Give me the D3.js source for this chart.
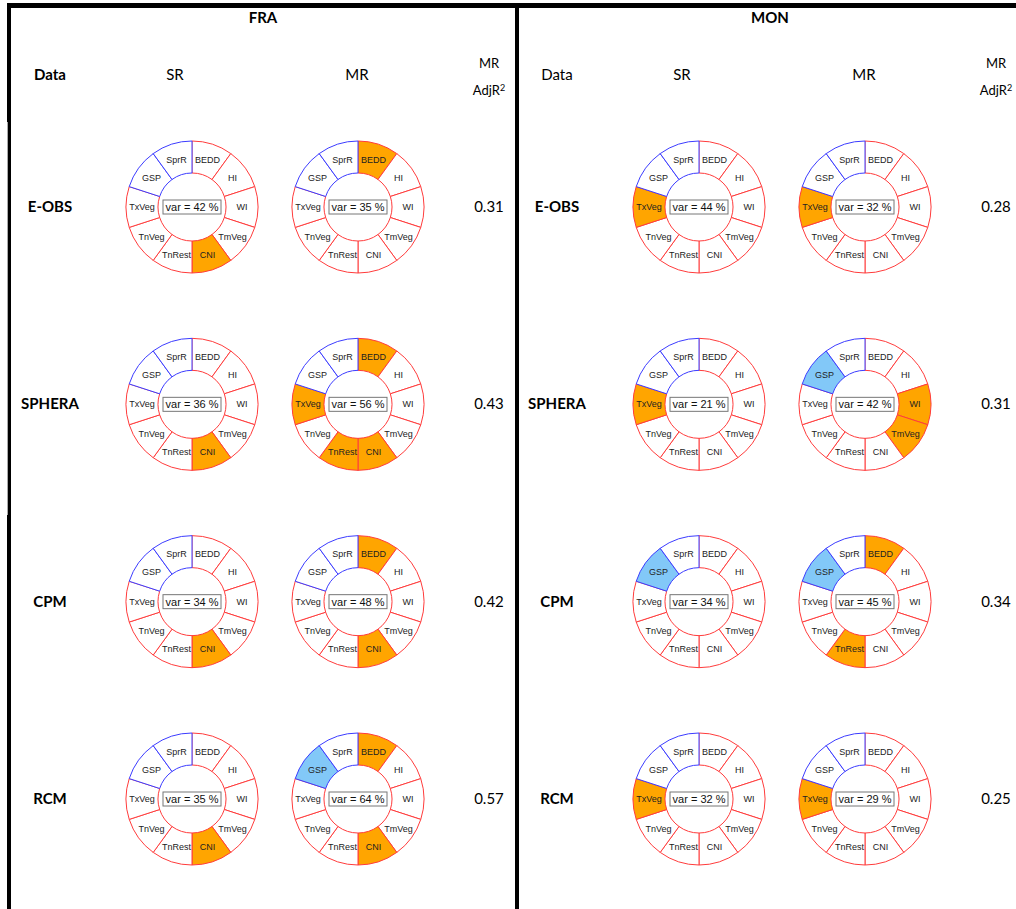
<!DOCTYPE html>
<html><head><meta charset="utf-8">
<script src="https://cdn.jsdelivr.net/npm/d3@7"></script>
<style>body{margin:0;background:#fff}svg{display:block}</style>
</head><body><svg id="chart" width="1016" height="909"></svg>
<script>
// ---- data ----
const regions = ["FRA", "MON"];
const datasets = ["E-OBS", "SPHERA", "CPM", "RCM"];
const models = ["SR", "MR"];
// climate indices, clockwise from 12 o'clock
const indices = ["BEDD", "HI", "WI", "TmVeg", "CNI", "TnRest", "TnVeg", "TxVeg", "GSP", "SprR"];
const precipIndices = ["GSP", "SprR"];

// explained variance (%) per dataset: [SR, MR]
const varFRA = [[42, 35], [36, 56], [34, 48], [35, 64]];
const varMON = [[44, 32], [21, 42], [34, 45], [32, 29]];

// selected predictors per dataset: [SR, MR], "+" positive / "-" negative effect
const selFRA = [
  [["CNI+"], ["BEDD+"]],
  [["CNI+"], ["BEDD+", "TxVeg+", "TnRest+", "CNI+"]],
  [["CNI+"], ["BEDD+", "CNI+"]],
  [["CNI+"], ["GSP-", "BEDD+", "CNI+"]]
];
const selMON = [
  [["TxVeg+"], ["TxVeg+"]],
  [["TxVeg+"], ["GSP-", "WI+", "TmVeg+"]],
  [["GSP-"], ["GSP-", "BEDD+", "TnRest+"]],
  [["TxVeg+"], ["TxVeg+"]]
];

// adjusted R² of the multiple regression
const adjR2FRA = [0.31, 0.43, 0.42, 0.57];
const adjR2MON = [0.28, 0.31, 0.34, 0.25];

const panels = [
  { name: regions[0], vars: varFRA, sel: selFRA, adj: adjR2FRA, dataBold: true },
  { name: regions[1], vars: varMON, sel: selMON, adj: adjR2MON, dataBold: false }
];

// ---- layout ----
const svg = d3.select("#chart");
const headFont = "Lato, 'Open Sans', sans-serif";
const donutFont = "'Liberation Sans', Arial, sans-serif";
const panelX = d3.scalePoint().domain(regions).range([0, 507]);
const rowY = d3.scalePoint().domain(datasets).range([207, 799]);
const colX = d3.scalePoint().domain(models).range([192, 358]);

const rOuter = 66, rInner = 34;
const pie = d3.pie().value(1).sort(null);
const slices = pie(indices);
const arc = d3.arc().innerRadius(rInner).outerRadius(rOuter);
const labelArc = d3.arc().innerRadius(50).outerRadius(50);

const red = "#ff3c3c", blue = "#3c3cff";
const posFill = "#ffa500", negFill = "#82c8f8";

panels.forEach(p => {
  const g = svg.append("g").attr("transform", `translate(${panelX(p.name)},0)`);

  // headers
  g.append("text").attr("x", 263).attr("y", 23).attr("text-anchor", "middle")
    .attr("font-family", headFont).attr("font-weight", "bold").attr("font-size", 15)
    .text(p.name);
  g.append("text").attr("x", 50).attr("y", 80).attr("text-anchor", "middle")
    .attr("font-family", headFont).attr("font-weight", p.dataBold ? "bold" : "normal")
    .attr("font-size", 15).text("Data");
  models.forEach(m => {
    g.append("text").attr("x", colX(m) - (m === "SR" ? 17 : 1)).attr("y", 80)
      .attr("text-anchor", "middle").attr("font-family", headFont)
      .attr("font-size", 15).text(m);
  });
  g.append("text").attr("x", 489).attr("y", 68).attr("text-anchor", "middle")
    .attr("font-family", headFont).attr("font-size", 13).text("MR");
  const adjT = g.append("text").attr("x", 489).attr("y", 95).attr("text-anchor", "middle")
    .attr("font-family", headFont).attr("font-size", 13);
  adjT.append("tspan").text("AdjR");
  adjT.append("tspan").attr("dy", -4).attr("font-size", 9).text("2");

  datasets.forEach((ds, i) => {
    const y = rowY(ds);
    g.append("text").attr("x", 50).attr("y", y + 5).attr("text-anchor", "middle")
      .attr("font-family", headFont).attr("font-weight", "bold").attr("font-size", 15)
      .text(ds);
    g.append("text").attr("x", 489).attr("y", y + 5).attr("text-anchor", "middle")
      .attr("font-family", headFont).attr("font-size", 15)
      .text(d3.format(".2f")(p.adj[i]));

    models.forEach((m, j) => {
      const sel = new Map(p.sel[i][j].map(s => [s.slice(0, -1), s.slice(-1)]));
      const dg = g.append("g").attr("transform", `translate(${colX(m)},${y})`);
      // draw red sectors first, blue (precipitation) on top so their borders show
      const order = slices.slice().sort((a, b) =>
        precipIndices.includes(a.data) - precipIndices.includes(b.data));
      dg.selectAll("path").data(order).join("path")
        .attr("d", arc)
        .attr("fill", d => sel.has(d.data) ? (sel.get(d.data) === "+" ? posFill : negFill) : "#fff")
        .attr("stroke", d => precipIndices.includes(d.data) ? blue : red)
        .attr("stroke-width", 1);
      dg.selectAll("text.lab").data(slices).join("text").attr("class", "lab")
        .attr("transform", d => `translate(${labelArc.centroid(d)})`)
        .attr("text-anchor", "middle").attr("dy", "0.35em")
        .attr("font-family", donutFont).attr("font-size", 9).attr("fill", "#222")
        .text(d => d.data);
      dg.append("rect").attr("x", -29).attr("y", -7).attr("width", 58).attr("height", 14)
        .attr("fill", "#fff").attr("stroke", "#777").attr("stroke-width", 1);
      dg.append("text").attr("x", 0).attr("y", 4).attr("text-anchor", "middle")
        .attr("font-family", donutFont).attr("font-size", 11).attr("fill", "#111")
        .text(`var = ${p.vars[i][j]} %`);
    });
  });
});

// table frame
svg.append("rect").attr("x", 7).attr("y", 3).attr("width", 1009).attr("height", 5).attr("fill", "#000");
svg.append("rect").attr("x", 7).attr("y", 3).attr("width", 4).attr("height", 906).attr("fill", "#000");
svg.append("rect").attr("x", 7).attr("y", 122).attr("width", 1).attr("height", 393).attr("fill", "#aaa");
svg.append("rect").attr("x", 515).attr("y", 3).attr("width", 4).attr("height", 906).attr("fill", "#000");
</script></body></html>
